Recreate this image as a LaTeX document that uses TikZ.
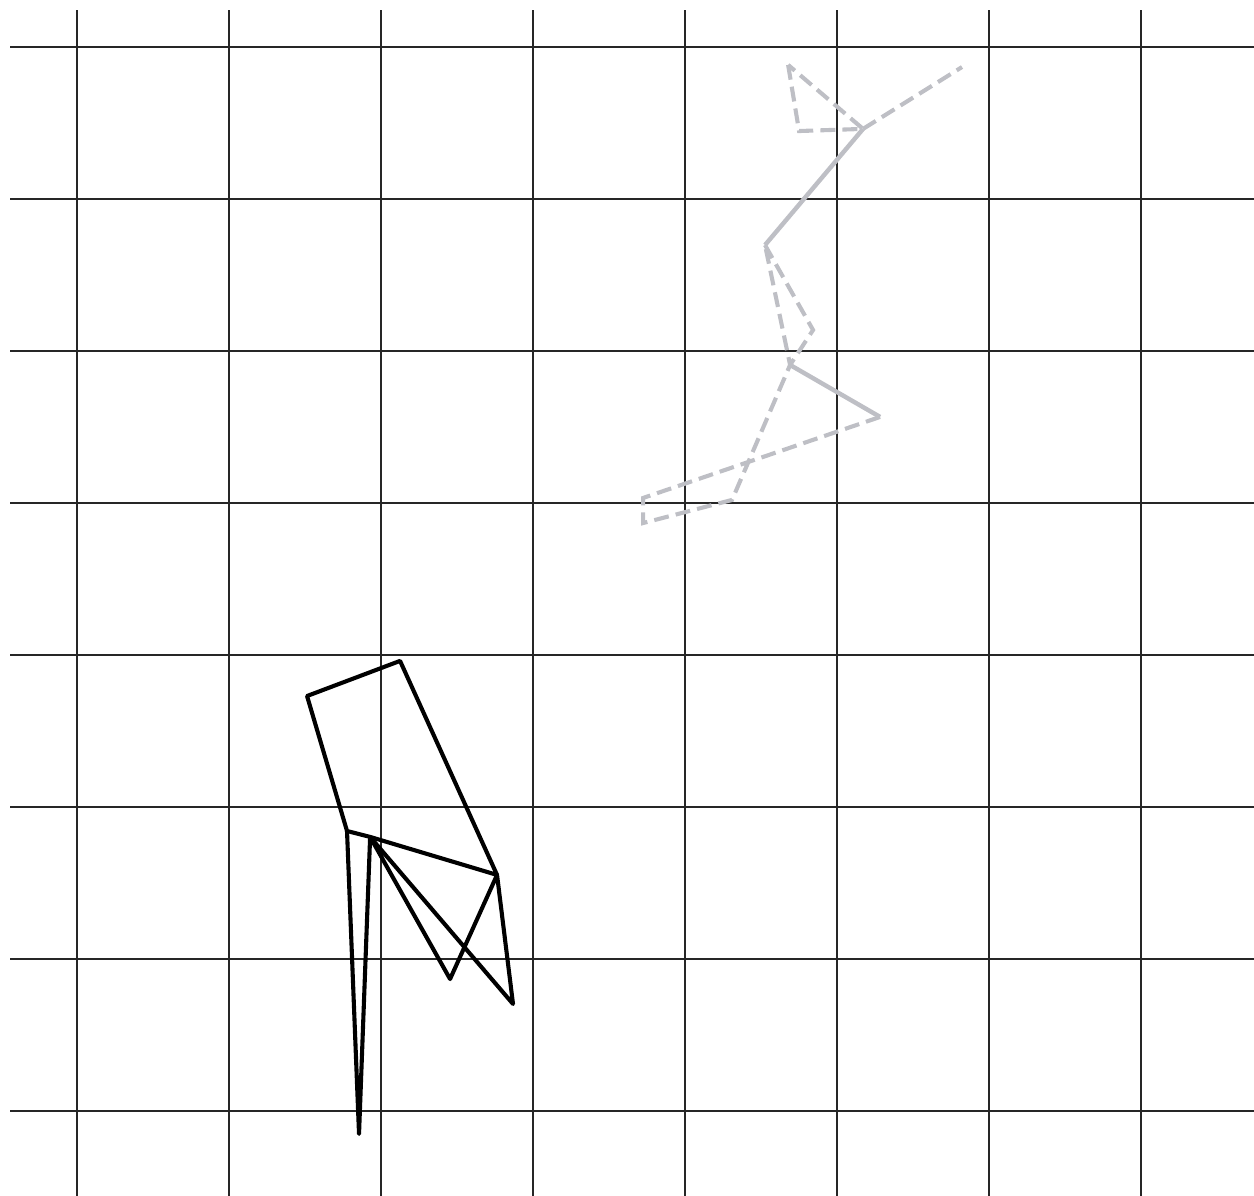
\documentclass[tikz,border=0pt]{standalone}
\usepackage{tikz}
\usetikzlibrary{calc}
\definecolor{lgray}{RGB}{190,191,197}
\tikzset{
    gridline/.style={line width=0.45pt, black!85},
    bone/.style={line width=1.15pt, black, line join=round},
    ghostbone/.style={line width=1.15pt, lgray, dash pattern=on 4.2pt off 2pt},
    ghostspine/.style={line width=1.25pt, lgray},
}
\begin{document}
\begin{tikzpicture}[x=1.5cm, y=1.5cm]

\useasboundingbox (-0.507,-0.559) rectangle (7.743,7.309);

% grid
\foreach \i in {0,...,7} {
    \draw[gridline] (\i,-0.559) -- (\i,7.243);
    \draw[gridline] (-0.441,\i) -- (7.743,\i);
}

% gray pose (dashed)
\coordinate (hand) at (5.822,6.868);
\coordinate (neck) at (5.171,6.461);
\coordinate (headtop) at (4.678,6.882);
\coordinate (headlow) at (4.750,6.447);
\coordinate (spine) at (4.526,5.697);
\coordinate (knee) at (4.842,5.138);
\coordinate (hip) at (4.691,4.908);
\coordinate (rfoot) at (5.283,4.566);
\coordinate (ltoe) at (3.724,4.033);
\coordinate (lshin) at (4.309,4.020);
\coordinate (lheel) at (3.724,3.868);

\draw[ghostbone] (headtop) -- (headlow) -- (neck) -- cycle;
\draw[ghostbone] (neck) -- (hand);
\draw[ghostspine] (neck) -- (spine);
\draw[ghostbone] (spine) -- (knee) -- (hip) -- cycle;
\draw[ghostspine] (hip) -- (rfoot);
\draw[ghostbone] (rfoot) -- (ltoe) -- (lheel) -- (lshin) -- (hip);

% black pose
\coordinate (b1) at (1.513,2.730);
\coordinate (b2) at (2.125,2.961);
\coordinate (b3) at (2.763,1.553);
\coordinate (b4) at (1.928,1.803);
\coordinate (b5) at (1.776,1.842);
\coordinate (b6) at (2.454,0.868);
\coordinate (b7) at (2.868,0.704);
\coordinate (b8) at (1.855,-0.151);

\draw[bone] (b5) -- (b1) -- (b2) -- (b3) -- (b4) -- (b5);
\draw[bone] (b4) -- (b6) -- (b3) -- (b7) -- (b4);
\draw[bone] (b5) -- (b8) -- (b4);

\end{tikzpicture}
\end{document}
